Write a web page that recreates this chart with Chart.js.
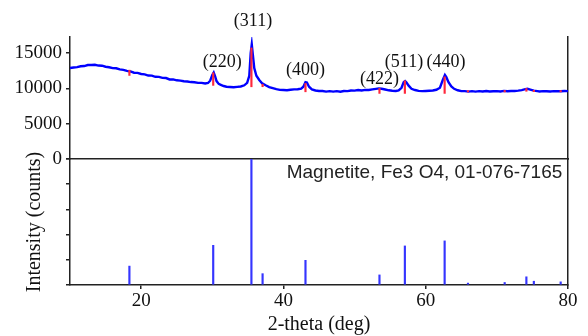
<!DOCTYPE html>
<html>
<head>
<meta charset="utf-8">
<script src="https://cdn.jsdelivr.net/npm/chart.js@4.4.1/dist/chart.umd.min.js"></script>
<style>
  html, body { margin: 0; padding: 0; background: #fff; }
  #wrap { position: relative; width: 588px; height: 336px; }
  #wrap canvas { position: absolute; left: 0; top: 0; }
</style>
</head>
<body>
<div id="wrap">
  <canvas id="refChart" width="588" height="336"></canvas>
  <canvas id="scanChart" width="588" height="336"></canvas>
</div>
<script>
// measured scan (top panel)
const twoTheta = [10.0, 10.5, 11.0, 11.5, 12.0, 12.5, 13.0, 13.5, 14.0, 14.5, 15.0, 15.5, 16.0, 16.5, 17.0, 17.5, 18.0, 18.5, 19.0, 19.5,
  20.0, 20.5, 21.0, 21.5, 22.0, 22.5, 23.0, 23.5, 24.0, 24.5, 25.0, 25.5, 26.0, 26.5, 27.0, 27.5, 28.0, 28.5, 29.0, 29.4,
  29.7, 30.0, 30.2, 30.4, 30.6, 30.9, 31.2, 31.6, 32.0, 32.5, 33.0, 33.5, 34.0, 34.5, 34.9, 35.2, 35.4, 35.55, 35.7, 35.9,
  36.2, 36.6, 37.0, 37.5, 38.0, 38.5, 39.0, 39.5, 40.0, 40.5, 41.0, 41.5, 42.0, 42.5, 42.8, 43.1, 43.3, 43.6, 44.0, 44.5,
  45.0, 45.5, 46.0, 46.5, 47.0, 47.5, 48.0, 48.5, 49.0, 49.5, 50.0, 50.5, 51.0, 51.5, 52.0, 52.5, 53.0, 53.4, 53.8, 54.3,
  54.8, 55.3, 55.8, 56.2, 56.6, 56.9, 57.1, 57.3, 57.6, 58.0, 58.5, 59.0, 59.5, 60.0, 60.5, 61.0, 61.5, 62.0, 62.4, 62.7,
  62.9, 63.2, 63.6, 64.0, 64.5, 65.0, 65.5, 66.0, 66.5, 67.0, 67.5, 68.0, 68.5, 69.0, 69.5, 70.0, 70.5, 71.0, 71.5, 72.0,
  72.5, 73.0, 73.5, 74.0, 74.3, 74.7, 75.2, 75.7, 76.0, 76.5, 77.0, 77.5, 78.0, 78.5, 79.0, 79.5, 80.0];
const counts = [12900, 12980, 13030, 13150, 13180, 13320, 13330, 13360, 13250, 13230, 13080, 13010, 12880, 12860, 12700, 12630, 12500, 12410, 12230, 12220,
  12060, 12010, 11830, 11820, 11660, 11650, 11500, 11480, 11280, 11290, 11160, 11120, 11020, 10990, 10910, 10880, 10800, 10800, 10710, 10780,
  11100, 11900, 12250, 11700, 11050, 10650, 10520, 10350, 10250, 10210, 10180, 10230, 10280, 10450, 10800, 11800, 15000, 16250, 14800, 12900,
  11800, 11200, 10750, 10450, 10200, 10050, 9900, 9800, 9780, 9760, 9820, 9880, 9900, 9980, 10250, 10900, 10850, 10250, 9880, 9720,
  9650, 9640, 9560, 9630, 9550, 9620, 9540, 9640, 9630, 9720, 9700, 9780, 9710, 9800, 9780, 9870, 9950, 10010, 9960, 9860,
  9740, 9680, 9650, 9720, 10100, 10900, 11050, 10850, 10400, 9950, 9780, 9660, 9630, 9650, 9680, 9720, 9820, 10100, 11200, 11900,
  11600, 10900, 10300, 9950, 9750, 9620, 9620, 9560, 9630, 9550, 9620, 9570, 9640, 9580, 9600, 9630, 9580, 9660, 9600, 9640,
  9640, 9690, 9760, 9900, 9960, 9850, 9700, 9620, 9570, 9620, 9600, 9580, 9630, 9600, 9610, 9650, 9620];

// reference pattern Magnetite 01-076-7165
const refPos = [18.35, 30.13, 35.5, 37.07, 43.1, 53.5, 57.07, 62.66, 65.94, 71.1, 74.15, 75.2, 78.97];
const refInt = [15, 31.5, 100, 9, 19.6, 8, 31, 35, 1.5, 2, 6.5, 3, 2.5];
// red marker sticks over the scan (counts)
const markLow = [11850, 10440, 10240, 10250, 9530, 9300, 9300, 9300, 9500, 9500, 9600, 9550, 9520];
const markHigh = [12600, 12220, 15750, 10600, 10720, 10010, 11090, 11650, 9700, 9720, 10000, 9750, 9700];

const hkl = ['(220)', '(311)', '(400)', '(422)', '(511)', '(440)'];
const hklX = [31.4, 35.72, 43.1, 53.5, 56.95, 62.85];
const hklY = [13780, 19540, 12600, 11290, 13780, 13690];

const countTicks = [0, 5000, 10000, 15000];
const angleTicks = [20, 40, 60, 80];
const refTicks = [0, 20, 40, 60, 80, 100];
const phaseName = 'Magnetite, Fe3 O4, 01-076-7165';

Chart.defaults.font.family = '"Liberation Serif", serif';
Chart.defaults.color = '#111';

const axisCol = '#222';
const serif = size => ({ family: '"Liberation Serif", serif', size: size });

const hklLabels = {
  id: 'hklLabels',
  afterDatasetsDraw(chart) {
    const { ctx, scales: { x, y } } = chart;
    ctx.save();
    ctx.font = '18px "Liberation Serif"';
    ctx.fillStyle = '#111';
    ctx.textAlign = 'center';
    ctx.textBaseline = 'middle';
    hkl.forEach((t, i) => ctx.fillText(t, x.getPixelForValue(hklX[i]), y.getPixelForValue(hklY[i])));
    ctx.restore();
  }
};

const phaseLabel = {
  id: 'phaseLabel',
  afterDatasetsDraw(chart) {
    const { ctx, scales: { x, y } } = chart;
    ctx.save();
    ctx.font = '19px "Liberation Sans"';
    ctx.fillStyle = '#222';
    ctx.textAlign = 'right';
    ctx.textBaseline = 'middle';
    ctx.fillText(phaseName, x.getPixelForValue(79.2), y.getPixelForValue(89));
    ctx.restore();
  }
};

// top panel
new Chart(document.getElementById('scanChart'), {
  type: 'line',
  data: {
    datasets: [
      {
        type: 'bar',
        data: refPos.map((p, i) => ({ x: p, y: [markLow[i], markHigh[i]] })),
        backgroundColor: 'rgb(255,40,60)',
        barThickness: 1.5,
        borderWidth: 0
      },
      {
        data: twoTheta.map((t, i) => ({ x: t, y: counts[i] })),
        borderColor: '#0000ff',
        borderWidth: 2.4,
        pointRadius: 0,
        tension: 0
      }
    ]
  },
  options: {
    responsive: false,
    animation: false,
    devicePixelRatio: 1,
    layout: { padding: { top: 37, bottom: 177, left: 0, right: 20 } },
    plugins: { legend: { display: false }, tooltip: { enabled: false } },
    scales: {
      x: { type: 'linear', min: 10, max: 80, display: false, offset: false, grid: { offset: false } },
      y: {
        type: 'linear', position: 'left', min: 0, max: 17300,
        afterFit: s => { s.width = 70; },
        afterBuildTicks: s => { s.ticks = countTicks.map(v => ({ value: v })); },
        ticks: { padding: 4, color: '#111', font: serif(19), callback: v => String(v) },
        grid: { drawOnChartArea: false, tickLength: 4, color: axisCol, lineWidth: 1.5 },
        border: { color: axisCol, width: 1.5 }
      },
      yR: {
        type: 'linear', position: 'right', min: 0, max: 1,
        afterFit: s => { s.width = 0; },
        ticks: { display: false },
        grid: { display: false },
        border: { display: true, color: axisCol, width: 1.5 }
      }
    }
  },
  plugins: [hklLabels]
});

// bottom panel
new Chart(document.getElementById('refChart'), {
  type: 'bar',
  data: {
    datasets: [{
      data: refPos.map((p, i) => ({ x: p, y: refInt[i] })),
      backgroundColor: '#3535ff',
      barThickness: 1.5,
      borderWidth: 0
    }]
  },
  options: {
    responsive: false,
    animation: false,
    devicePixelRatio: 1,
    layout: { padding: { top: 159, bottom: 0, left: 0, right: 20 } },
    plugins: { legend: { display: false }, tooltip: { enabled: false } },
    scales: {
      x: {
        type: 'linear', position: 'bottom', min: 10, max: 80, offset: false,
        afterFit: s => { s.height = 51; },
        afterBuildTicks: s => { s.ticks = angleTicks.map(v => ({ value: v })); },
        ticks: { padding: 1, color: '#111', font: serif(19), maxRotation: 0, autoSkip: false, callback: v => String(v) },
        grid: { drawOnChartArea: false, offset: false, tickLength: 4, color: axisCol, lineWidth: 1.5 },
        border: { color: axisCol, width: 1.5 },
        title: { display: true, text: '2-theta (deg)', color: '#111', font: { family: '"Liberation Serif", serif', size: 20, lineHeight: 1.1 }, padding: 0 }
      },
      xT: {
        type: 'linear', position: 'top', min: 0, max: 1,
        afterFit: s => { s.height = 0; },
        ticks: { display: false },
        grid: { display: false },
        border: { display: true, color: axisCol, width: 1.5 }
      },
      y: {
        type: 'linear', position: 'left', min: 0, max: 100,
        afterFit: s => { s.width = 70; },
        afterBuildTicks: s => { s.ticks = refTicks.map(v => ({ value: v })); },
        ticks: { callback: () => '' },
        grid: { drawOnChartArea: false, tickLength: 4, color: axisCol, lineWidth: 1.5 },
        border: { color: axisCol, width: 1.5 },
        title: { display: true, text: 'Intensity (counts)', color: '#111', font: serif(20), padding: { top: 23, bottom: 0 } }
      },
      yR: {
        type: 'linear', position: 'right', min: 0, max: 1,
        afterFit: s => { s.width = 0; },
        ticks: { display: false },
        grid: { display: false },
        border: { display: true, color: axisCol, width: 1.5 }
      }
    }
  },
  plugins: [phaseLabel]
});
</script>
</body>
</html>
